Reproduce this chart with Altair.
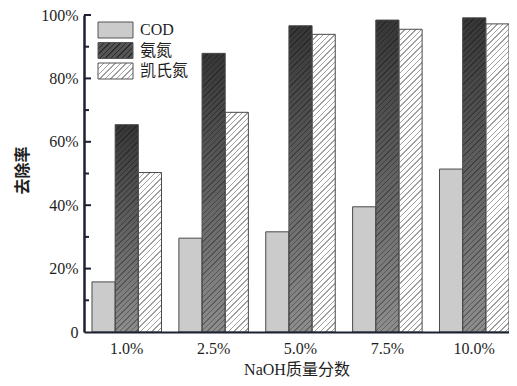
import json
import altair as alt
import pandas as pd

# ---- data ----
categories = ["1.0%", "2.5%", "5.0%", "7.5%", "10.0%"]
series = ["COD", "氨氮", "凯氏氮"]
cod = [15.8, 29.6, 31.6, 39.5, 51.4]
ammonia = [65.4, 87.9, 96.6, 98.4, 99.1]
kjeldahl = [50.3, 69.3, 93.9, 95.5, 97.2]
y_labels = [0, 20, 40, 60, 80, 100]
major_ticks = [20, 40, 60, 80, 100]
minor_ticks = [10, 30, 50, 70, 90]

rows = []
for i, c in enumerate(categories):
    for s, vals in zip(series, [cod, ammonia, kjeldahl]):
        rows.append({"cat": c, "series": s, "value": vals[i]})
df = pd.DataFrame(rows)

# ---- layout / style ----
W_PLOT, H_PLOT = 425, 317
PAD_INNER, PAD_OUTER = 0.2, 0.046
step = W_PLOT / (len(categories) - PAD_INNER + 2 * PAD_OUTER)
BAR_W = step * (1 - PAD_INNER) / len(series)
PX = H_PLOT / 100.0
L = 360.0
PERIOD = 5.5
N = int(L / PERIOD)
FRAC = 0.26

FONT = "'Liberation Serif', 'Noto Sans CJK SC', serif"
TXT = "#1e1e1e"
AXIS_C = "#1c2030"

# legend geometry (plot-area pixels)
LEG_X0, LEG_X1, LEG_TXT_X = 14, 49, 56
LEG_Y0, LEG_STEP, LEG_H = 7, 20.5, 16


def stripe_list(line, bg):
    st = []
    for i in range(N):
        a = i / N
        b = (i + FRAC) / N
        e = (i + 1) / N
        st += [
            {"offset": round(a, 5), "color": line},
            {"offset": round(b, 5), "color": line},
            {"offset": round(b, 5), "color": bg},
            {"offset": round(e, 5), "color": bg},
        ]
    return st


STOPS_A = json.dumps(stripe_list("rgba(0,0,0,0.30)", "rgba(0,0,0,0)"))
STOPS_K = json.dumps(stripe_list("#a0a0a0", "rgba(255,255,255,0)"))

w2 = BAR_W * BAR_W
hatch_expr = (
    "datum.series === 'COD' ? 'transparent' : "
    "{gradient: 'linear', x1: 0, y1: 0, "
    f"x2: {L}*{BAR_W}/({w2} + pow(datum.value*{PX}, 2)), "
    f"y2: {L}*datum.value*{PX}/({w2} + pow(datum.value*{PX}, 2)), "
    f"stops: datum.series === '氨氮' ? {STOPS_A} : {STOPS_K}}}"
)
vgrad_expr = (
    "datum.series === '氨氮' ? {gradient: 'linear', x1: 0, y1: 0, x2: 0, y2: 1, "
    "stops: [{offset: 0, color: '#363636'}, {offset: 1, color: '#8e8e8e'}]} : "
    "(datum.series === 'COD' ? '#cbcbcb' : '#ffffff')"
)
LW, LH = float(LEG_X1 - LEG_X0), float(LEG_H)
lx2 = L * LW / (LW * LW + LH * LH)
ly2 = L * LH / (LW * LW + LH * LH)
legend_fills = [
    "#cbcbcb",
    {"gradient": "linear", "x1": 0, "y1": 0, "x2": lx2, "y2": ly2,
     "stops": stripe_list("#2c2c2c", "#555555")},
    {"gradient": "linear", "x1": 0, "y1": 0, "x2": lx2, "y2": ly2,
     "stops": stripe_list("#a0a0a0", "#ffffff")},
]

x_enc = alt.X(
    "cat:N",
    sort=categories,
    scale=alt.Scale(paddingInner=PAD_INNER, paddingOuter=PAD_OUTER, align=1),
    title="NaOH质量分数",
    axis=alt.Axis(
        labelAngle=0, ticks=False, domainColor=AXIS_C, domainWidth=2,
        labelPadding=8, labelFont=FONT, labelFontSize=16, labelColor=TXT,
        titleFont=FONT, titleFontSize=16, titleFontWeight="normal",
        titleColor=TXT, titlePadding=5, zindex=1,
    ),
)
xoff_enc = alt.XOffset("series:N", sort=series, scale=alt.Scale(paddingInner=0, paddingOuter=0))
y_scale = alt.Scale(domain=[0, 100], nice=False)
y_axis = alt.Axis(
    values=y_labels, labelExpr="datum.value == 0 ? '0' : datum.value + '%'",
    ticks=False, grid=False, domain=True, domainColor=AXIS_C, domainWidth=2.5,
    labelFont=FONT, labelFontSize=16, labelColor=TXT, labelPadding=6,
    titleFont=FONT, titleFontSize=16, titleFontWeight="bold", titleColor=TXT,
    titleX=-54, titleY=155, zindex=1,
)
y_enc = alt.Y("value:Q", scale=y_scale, stack=None, title="去除率", axis=y_axis)

base = alt.Chart(df).transform_calculate(vg=vgrad_expr).mark_bar().encode(
    x=x_enc, xOffset=xoff_enc, y=y_enc,
    fill=alt.Fill("vg:N", scale=None),
)

hatch_layer = alt.Chart(df).transform_calculate(hatch=hatch_expr).mark_bar(
    stroke="#4a4a4a", strokeWidth=1
).encode(
    x=x_enc, xOffset=xoff_enc, y=y_enc,
    fill=alt.Fill("hatch:N", scale=None),
)

tick_major = alt.Chart(pd.DataFrame({"t": major_ticks})).mark_rule(
    color=AXIS_C, strokeWidth=2
).encode(y=alt.Y("t:Q", scale=y_scale, title="去除率", axis=y_axis), x=alt.value(0), x2=alt.value(7))

tick_minor = alt.Chart(pd.DataFrame({"t": minor_ticks})).mark_rule(
    color=AXIS_C, strokeWidth=2
).encode(y=alt.Y("t:Q", scale=y_scale, title="去除率", axis=y_axis), x=alt.value(0), x2=alt.value(5))

legend_layers = []
for i, s in enumerate(series):
    top = LEG_Y0 + i * LEG_STEP
    legend_layers.append(
        alt.Chart(pd.DataFrame({"series": [s]})).mark_rect(
            fill=legend_fills[i], stroke="#555555", strokeWidth=1
        ).encode(
            x=alt.value(LEG_X0), x2=alt.value(LEG_X1),
            y=alt.value(top), y2=alt.value(top + LEG_H),
        )
    )
    legend_layers.append(
        alt.Chart(pd.DataFrame({"series": [s]})).mark_text(
            align="left", baseline="middle", font=FONT, fontSize=16, color=TXT
        ).encode(x=alt.value(LEG_TXT_X), y=alt.value(top + LEG_H / 2), text="series:N")
    )

chart = (
    alt.layer(base, hatch_layer, *legend_layers, tick_major, tick_minor)
    .properties(
        width=W_PLOT, height=H_PLOT,
        autosize=alt.AutoSizeParams(type="none"),
        padding={"left": 76, "top": 7, "right": 0, "bottom": 46},
        background="white",
    )
    .configure_view(stroke=None)
)

chart.save("out.html", embed_options={"renderer": "svg", "actions": False})
